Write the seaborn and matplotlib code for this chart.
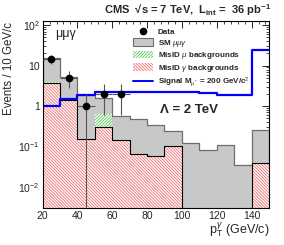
import numpy as np
import pandas as pd
import matplotlib
matplotlib.use("Agg")
import matplotlib.pyplot as plt
import seaborn as sns
from matplotlib.lines import Line2D
from matplotlib.patches import Patch
from matplotlib.ticker import FixedLocator, MultipleLocator, LogLocator, NullFormatter

# Bin layout (10 GeV/c bins from 20 to 150)
bin_edges = list(range(20, 160, 10))
bin_centers = [25, 35, 45, 55, 65, 75, 85, 95, 105, 115, 125, 135, 145]

# Stacked backgrounds (cumulative tops)
sm_total = [15.5, 5.2, 1.85, 1.55, 0.57, 0.47, 0.34, 0.24, 0.12, 0.08, 0.105, 0.035, 0.25]
misid_mu_top = [3.85, 1.45, 0.155, 0.65, 0.145, 0.065, 0.059, 0.1, 0, 0, 0, 0, 0.038]
misid_gamma = [3.7, 1.4, 0.155, 0.3, 0.145, 0.065, 0.059, 0.1, 0, 0, 0, 0, 0.038]

# Signal M_mu* = 200 GeV/c^2, Lambda = 2 TeV
signal = [1.0, 1.45, 1.85, 2.2, 2.2, 2.2, 2.25, 2.25, 2.2, 2.1, 1.85, 1.85, 24]

# Data points
data_x = [25, 35, 45, 55, 65]
data_y = [15, 5, 1, 2, 2]

sns.set_theme(style="ticks")
plt.rcParams["font.family"] = ["Liberation Sans", "DejaVu Sans"]
plt.rcParams["hatch.linewidth"] = 0.6
plt.rcParams["mathtext.fontset"] = "custom"
plt.rcParams["mathtext.rm"] = "Liberation Sans"
plt.rcParams["mathtext.it"] = "Liberation Sans:italic"
plt.rcParams["mathtext.bf"] = "Liberation Sans:bold"

RED_HATCH = "\\" * 11
GREEN_HATCH = "/" * 11

df = pd.DataFrame({"x": bin_centers, "sm": sm_total, "mu": misid_mu_top,
                   "gam": misid_gamma, "sig": signal})

fig = plt.figure(figsize=(2.84, 2.45), dpi=100)
ax = fig.add_axes([0.150, 0.152, 0.797, 0.7635])

# gray SM mumugamma (top of the stack)
sns.histplot(data=df, x="x", weights="sm", bins=bin_edges, element="step", fill=True,
             color="#c8c8c8", alpha=1, ax=ax)
ax.collections[-1].set_edgecolor("#6e6e6e")
ax.collections[-1].set_linewidth(0.9)

# green MisID mu
sns.histplot(data=df, x="x", weights="mu", bins=bin_edges, element="step", fill=True,
             color="white", alpha=1, ax=ax)
ax.collections[-1].set_facecolor("white")
ax.collections[-1].set_edgecolor("#55cc55")
ax.collections[-1].set_hatch(GREEN_HATCH)
ax.collections[-1].set_linewidth(0)

# red MisID gamma
sns.histplot(data=df, x="x", weights="gam", bins=bin_edges, element="step", fill=True,
             color="white", alpha=1, ax=ax)
ax.collections[-1].set_facecolor("white")
ax.collections[-1].set_edgecolor("#f07070")
ax.collections[-1].set_hatch(RED_HATCH)
ax.collections[-1].set_linewidth(0)
sns.histplot(data=df, x="x", weights="gam", bins=bin_edges, element="step", fill=False,
             color="black", linewidth=0.8, ax=ax)

# signal
sns.histplot(data=df, x="x", weights="sig", bins=bin_edges, element="step", fill=False,
             color="#0000ff", linewidth=1.6, ax=ax)

# data with sqrt(N) errors
yerr_hi = np.sqrt(data_y)
yerr_lo = np.minimum(np.sqrt(data_y), np.array(data_y) - 1e-4)
ax.errorbar(data_x, data_y, yerr=[yerr_lo, yerr_hi], xerr=5, fmt="o", color="black",
            ecolor="#555555", elinewidth=0.8, markersize=4.5, capsize=0, zorder=5)

ax.set_yscale("log")
ax.set_xlim(20, 150)
ax.set_ylim(0.003, 130)

ax.yaxis.set_major_locator(FixedLocator([1e-2, 1e-1, 1, 10, 100]))
ax.set_yticklabels(["10$^{-2}$", "10$^{-1}$", "1", "10", "10$^{2}$"])
ax.yaxis.set_minor_locator(LogLocator(base=10, subs=np.arange(2, 10)))
ax.yaxis.set_minor_formatter(NullFormatter())
ax.xaxis.set_major_locator(MultipleLocator(20))
ax.xaxis.set_minor_locator(MultipleLocator(4))
ax.tick_params(which="both", direction="in", top=True, right=True, labelsize=7.5, pad=2)
ax.tick_params(which="major", length=5, width=0.7)
ax.tick_params(which="minor", length=2.5, width=0.6)
for s in ax.spines.values():
    s.set_linewidth(0.8)
    s.set_color("black")

ax.set_xlabel("")
ax.set_ylabel("")
fig.text(0.95, 0.058, "p$_{\\mathrm{T}}^{\\gamma}$ (GeV/c)", ha="right", va="center", fontsize=9)
fig.text(0.03, 0.912, "Events / 10 GeV/c", rotation=90, ha="center", va="top", fontsize=8.3)
fig.text(0.955, 0.99, "CMS  √s = 7 TeV,  L$_{\\mathbf{int}}$ =  36 pb$^{\\mathbf{-1}}$",
         ha="right", va="top", fontsize=8, fontweight="bold")

ax.text(0.054, 0.93, "μμγ", transform=ax.transAxes, fontsize=9, va="center")
ax.text(0.52, 0.52, "Λ = 2 TeV", transform=ax.transAxes, fontsize=9.5,
        fontweight="bold", va="center")

handles = [
    Line2D([], [], marker="o", color="black", linestyle="none", markersize=4.5),
    Patch(facecolor="#c8c8c8", edgecolor="#6e6e6e", linewidth=0.8),
    Patch(facecolor="white", edgecolor="#55cc55", hatch=GREEN_HATCH, linewidth=0),
    Patch(facecolor="white", edgecolor="#f07070", hatch=RED_HATCH, linewidth=0),
    Line2D([], [], color="#0000ff", linewidth=1.4),
]
labels = ["Data", "SM $\\mu\\mu\\gamma$", "MisID $\\mu$ backgrounds",
          "MisID $\\gamma$ backgrounds", "Signal M$_{\\mu^*}$ = 200 GeV/c$^2$"]
leg = ax.legend(handles, labels, loc="upper left", bbox_to_anchor=(0.38, 0.99),
                frameon=False, fontsize=5.8, handlelength=2.4, handleheight=1.1,
                labelspacing=0.2, handletextpad=0.6, borderaxespad=0.2)
for t in leg.get_texts():
    t.set_fontweight("bold")

fig.savefig("out.png", dpi=100)
